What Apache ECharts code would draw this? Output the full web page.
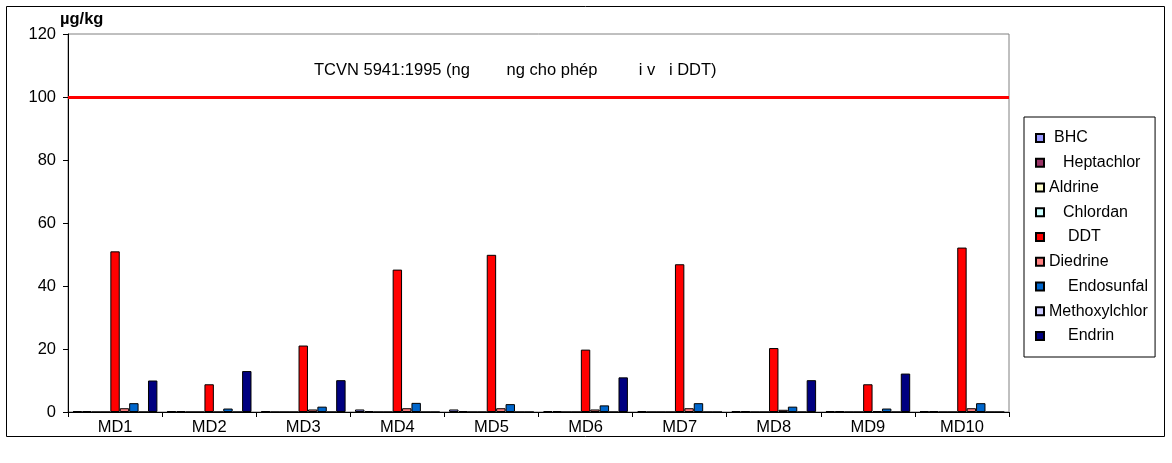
<!DOCTYPE html>
<html>
<head>
<meta charset="utf-8">
<script src="https://cdn.jsdelivr.net/npm/echarts@6/dist/echarts.min.js"></script>
<style>
  html, body { margin: 0; padding: 0; background: #fff; }
  #chart { width: 1172px; height: 463px; }
</style>
</head>
<body>
<div id="chart"></div>
<script>
// Sampling sites
const categories = ['MD1', 'MD2', 'MD3', 'MD4', 'MD5', 'MD6', 'MD7', 'MD8', 'MD9', 'MD10'];

// Residue concentrations, µg/kg
const bhc           = [0.3, 0.3, 0.3, 0.8, 0.8, 0.3, 0.3, 0.3, 0.3, 0.3];
const heptachlor    = [0.3, 0.3, 0,   0.3, 0.3, 0.3, 0,   0.3, 0.3, 0.3];
const aldrine       = [0, 0, 0, 0, 0, 0, 0, 0, 0, 0];
const chlordan      = [0, 0, 0, 0, 0, 0, 0, 0, 0, 0];
const ddt           = [51.0, 8.8, 21.1, 45.2, 49.9, 19.8, 46.9, 20.3, 8.8, 52.2];
const diedrine      = [1.2, 0, 0.8, 1.2, 1.2, 0.8, 1.2, 0.7, 0.3, 1.2];
const endosunfal    = [2.8, 1.1, 1.7, 2.9, 2.5, 2.1, 2.8, 1.7, 1.1, 2.8];
const methoxylchlor = [0, 0, 0, 0, 0, 0, 0, 0, 0, 0];
const endrin        = [10.0, 13.0, 10.1, 0, 0, 11.0, 0, 10.1, 12.2, 0];

// Permitted limit for DDT
const limitValue = 100;
const limitLabel = 'TCVN 5941:1995 (ng        ng cho phép         i v   i DDT)';
const unitLabel = 'µg/kg';

// Y axis ticks
const yMin = 0, yMax = 120, yStep = 20;

const seriesDefs = [
  { name: 'BHC',           data: bhc,           color: '#9999FF', indent: 5 },
  { name: 'Heptachlor',    data: heptachlor,    color: '#993366', indent: 14 },
  { name: 'Aldrine',       data: aldrine,       color: '#FFFFCC', indent: 0 },
  { name: 'Chlordan',      data: chlordan,      color: '#CCFFFF', indent: 14 },
  { name: 'DDT',           data: ddt,           color: '#FF0000', indent: 19 },
  { name: 'Diedrine',      data: diedrine,      color: '#FF8080', indent: 0 },
  { name: 'Endosunfal',    data: endosunfal,    color: '#0066CC', indent: 19 },
  { name: 'Methoxylchlor', data: methoxylchlor, color: '#CCCCFF', indent: 0 },
  { name: 'Endrin',        data: endrin,        color: '#000080', indent: 19 }
];

const FONT = "'Liberation Sans', Arial, sans-serif";
const FS = 16.5;
const LEGEND_FS = 16;

const indentOf = {};
const rich = {};
seriesDefs.forEach(s => {
  indentOf[s.name] = s.indent;
  rich['p' + s.indent] = { padding: [0, 0, 0, s.indent], fontSize: LEGEND_FS, fontFamily: FONT, color: '#000' };
});

const series = seriesDefs.map(s => {
  const item = {
    name: s.name,
    type: 'bar',
    data: s.data,
    barGap: '0%',
    barCategoryGap: '10%',
    itemStyle: { color: s.color, borderColor: '#000', borderWidth: 1 },
    emphasis: { disabled: true }
  };
  if (s.name === 'DDT') {
    item.markLine = {
      silent: true,
      symbol: 'none',
      label: { show: false },
      lineStyle: { color: '#FF0000', width: 3, type: 'solid' },
      data: [{ yAxis: limitValue }]
    };
  }
  return item;
});

const chart = echarts.init(document.getElementById('chart'), null, { renderer: 'canvas' });
chart.setOption({
  animation: false,
  backgroundColor: '#fff',
  textStyle: { fontFamily: FONT },
  title: {
    text: limitLabel,
    left: 314,
    top: 62,
    padding: 0,
    textStyle: { fontSize: FS, fontWeight: 'normal', color: '#000', fontFamily: FONT }
  },
  grid: {
    left: 68, right: 163, top: 34, bottom: 51,
    show: true, borderColor: '#808080', borderWidth: 1, backgroundColor: '#fff'
  },
  legend: {
    orient: 'vertical',
    left: 1024, top: 117,
    padding: [12, 7, 12, 11],
    borderColor: '#000', borderWidth: 1,
    icon: 'rect',
    itemWidth: 8, itemHeight: 8,
    itemGap: 6.75,
    selectedMode: false,
    formatter: name => '{p' + indentOf[name] + '|' + name + '}',
    textStyle: { fontSize: LEGEND_FS, fontFamily: FONT, color: '#000', lineHeight: 18, rich: rich }
  },
  xAxis: {
    type: 'category',
    data: categories,
    axisLine: { lineStyle: { color: '#000', width: 1 } },
    axisTick: { show: true, length: 5, lineStyle: { color: '#000' } },
    axisLabel: { color: '#000', fontSize: FS, fontFamily: FONT, margin: 7 },
    splitLine: { show: false }
  },
  yAxis: {
    type: 'value',
    min: yMin, max: yMax, interval: yStep,
    axisLine: { show: true, lineStyle: { color: '#000', width: 1 } },
    axisTick: { show: true, length: 5, lineStyle: { color: '#000' } },
    axisLabel: { color: '#000', fontSize: FS, fontFamily: FONT, margin: 12 },
    splitLine: { show: false }
  },
  graphic: [
    {
      type: 'rect',
      shape: { x: 6.5, y: 6.5, width: 1158, height: 430 },
      style: { fill: 'none', stroke: '#000', lineWidth: 1 },
      silent: true, z: -1
    },
    {
      type: 'text',
      left: 60, top: 11,
      style: { text: unitLabel, font: 'bold 16.5px ' + FONT, fill: '#000' },
      silent: true
    }
  ],
  series: series
});
</script>
</body>
</html>
